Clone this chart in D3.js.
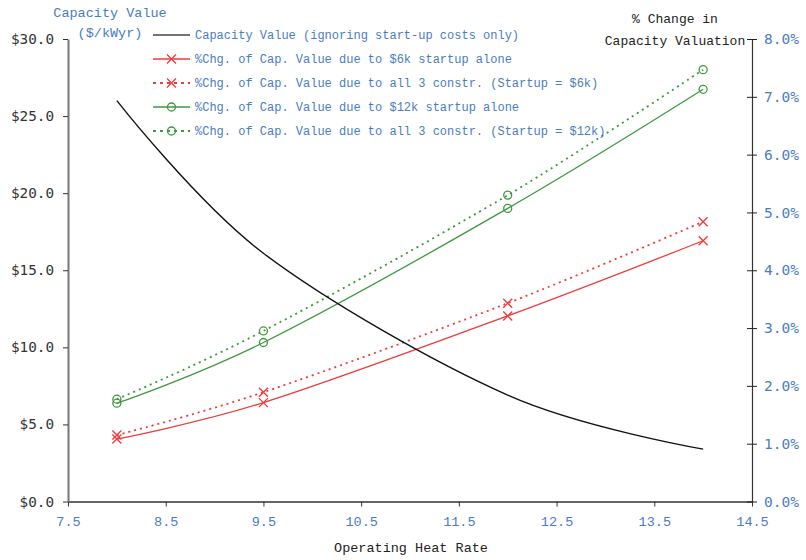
<!DOCTYPE html>
<html>
<head>
<meta charset="utf-8">
<script src="https://cdn.jsdelivr.net/npm/d3@7"></script>
<style>
  body { margin: 0; background: #fff; }
  svg { display: block; }
</style>
</head>
<body>
<svg width="806" height="560"></svg>
<script>
// Data
var heatRates = [8, 9.5, 12, 14];
var capValue = [26.0, 16.1, 6.9, 3.4];
var pct6k = [1.08, 1.71, 3.21, 4.51];
var pctAll6k = [1.15, 1.89, 3.43, 4.84];
var pct12k = [1.70, 2.75, 5.07, 7.13];
var pctAll12k = [1.77, 2.95, 5.30, 7.47];

var xTicks = [7.5, 8.5, 9.5, 10.5, 11.5, 12.5, 13.5, 14.5];
var leftTicks = [0, 5, 10, 15, 20, 25, 30];
var rightTicks = [0, 1, 2, 3, 4, 5, 6, 7, 8];

var legendLabels = [
  "Capacity Value (ignoring start-up costs only)",
  "%Chg. of Cap. Value due to $6k startup alone",
  "%Chg. of Cap. Value due to all 3 constr. (Startup = $6k)",
  "%Chg. of Cap. Value due to $12k startup alone",
  "%Chg. of Cap. Value due to all 3 constr. (Startup = $12k)"
];

var svg = d3.select("svg");
var blue = "#4a7cc4", red = "#ee3b3b", green = "#3f983f";
var mono = "'Liberation Mono', monospace";
var sansMono = "'DejaVu Sans Mono', monospace";

var x = d3.scaleLinear().domain([7.5, 14.5]).range([68, 752]);
var yL = d3.scaleLinear().domain([0, 30]).range([501.5, 39]);
var yR = d3.scaleLinear().domain([0, 8]).range([501.5, 39]);

// bottom axis
var gx = svg.append("g").attr("transform", "translate(0,501.5)")
  .call(d3.axisBottom(x).tickValues(xTicks).tickFormat(d3.format(".1f")).tickSize(5).tickSizeOuter(0));
gx.select(".domain").attr("stroke", "#666").attr("stroke-width", 2);
gx.selectAll(".tick line").attr("stroke", "#333");
gx.selectAll("text").attr("fill", blue).attr("font-family", mono).attr("font-size", 13.5).attr("dy", "1.25em");

// left axis
var gl = svg.append("g").attr("transform", "translate(68,0)")
  .call(d3.axisLeft(yL).tickValues(leftTicks).tickFormat(function(d) { return "$" + d3.format(".1f")(d); }).tickSize(5).tickSizeOuter(0));
gl.select(".domain").attr("stroke", "#777").attr("stroke-width", 2);
gl.selectAll(".tick line").attr("stroke", "#333");
gl.selectAll("text").attr("fill", "#333").attr("font-family", sansMono).attr("font-size", 14.3).attr("x", -14);

// right axis
var gr = svg.append("g").attr("transform", "translate(752,0)")
  .call(d3.axisRight(yR).tickValues(rightTicks).tickFormat(function(d) { return d3.format(".1f")(d) + "%"; }).tickSize(5).tickSizeOuter(0));
gr.select(".domain").attr("stroke", "#333").attr("stroke-width", 1.2);
gr.selectAll(".tick line").attr("stroke", "#222").attr("x1", -5).attr("x2", 5);
gr.selectAll("text").attr("fill", blue).attr("font-family", sansMono).attr("font-size", 14.5).attr("x", 12);

// titles
svg.append("text").attr("x", 110).attr("y", 17).attr("text-anchor", "middle")
  .attr("fill", blue).attr("font-family", mono).attr("font-size", 13.5).text("Capacity Value");
svg.append("text").attr("x", 110).attr("y", 37).attr("text-anchor", "middle")
  .attr("fill", blue).attr("font-family", mono).attr("font-size", 13.5).text("($/kWyr)");
svg.append("text").attr("x", 675).attr("y", 23).attr("text-anchor", "middle")
  .attr("fill", "#222").attr("font-family", mono).attr("font-size", 13).text("% Change in");
svg.append("text").attr("x", 675).attr("y", 45).attr("text-anchor", "middle")
  .attr("fill", "#222").attr("font-family", mono).attr("font-size", 13).text("Capacity Valuation");
svg.append("text").attr("x", 411).attr("y", 552).attr("text-anchor", "middle")
  .attr("fill", "#222").attr("font-family", mono).attr("font-size", 13.5).text("Operating Heat Rate");

// series
var series = [
  { vals: pct6k, color: red, dash: null, mark: "x" },
  { vals: pctAll6k, color: red, dash: "2,4", mark: "x" },
  { vals: pct12k, color: green, dash: null, mark: "o" },
  { vals: pctAll12k, color: green, dash: "2,4", mark: "o" }
];

var lineR = d3.line().x(function(d) { return x(d[0]); }).y(function(d) { return yR(d[1]); }).curve(d3.curveCardinal);
var lineL = d3.line().x(function(d) { return x(d[0]); }).y(function(d) { return yL(d[1]); }).curve(d3.curveCardinal);

function drawMark(g, mark, color, cx, cy) {
  if (mark === "x") {
    g.append("path").attr("d", "M" + (cx - 4.5) + "," + (cy - 4.5) + "L" + (cx + 4.5) + "," + (cy + 4.5) +
      "M" + (cx - 4.5) + "," + (cy + 4.5) + "L" + (cx + 4.5) + "," + (cy - 4.5))
      .attr("stroke", color).attr("stroke-width", 1.3).attr("fill", "none");
  } else {
    g.append("circle").attr("cx", cx).attr("cy", cy).attr("r", 4)
      .attr("stroke", color).attr("stroke-width", 1.3).attr("fill", "none");
  }
}

series.forEach(function(s) {
  var pts = heatRates.map(function(h, i) { return [h, s.vals[i]]; });
  var g = svg.append("g");
  g.append("path").attr("d", lineR(pts)).attr("fill", "none").attr("stroke", s.color)
    .attr("stroke-width", s.dash ? 1.8 : 1.3).attr("stroke-dasharray", s.dash);
  pts.forEach(function(p) { drawMark(g, s.mark, s.color, x(p[0]), yR(p[1])); });
});

// capacity value curve
svg.append("path")
  .attr("d", lineL(heatRates.map(function(h, i) { return [h, capValue[i]]; })))
  .attr("fill", "none").attr("stroke", "#111").attr("stroke-width", 1.4);

// legend
var legendStyles = [
  { color: "#444", dash: null, mark: null },
  { color: red, dash: null, mark: "x" },
  { color: red, dash: "3,4", mark: "x" },
  { color: green, dash: null, mark: "o" },
  { color: green, dash: "3,4", mark: "o" }
];
var legend = svg.append("g");
legendLabels.forEach(function(lbl, i) {
  var ly = 35 + i * 24;
  var st = legendStyles[i];
  legend.append("line").attr("x1", 153).attr("x2", 190).attr("y1", ly).attr("y2", ly)
    .attr("stroke", st.color).attr("stroke-width", st.dash ? 2.2 : 1.5).attr("stroke-dasharray", st.dash);
  if (st.mark) drawMark(legend, st.mark, st.color, 171.5, ly);
  legend.append("text").attr("x", 195).attr("y", ly + 4).attr("fill", blue)
    .attr("font-family", mono).attr("font-size", 12).text(lbl);
});
</script>
</body>
</html>
